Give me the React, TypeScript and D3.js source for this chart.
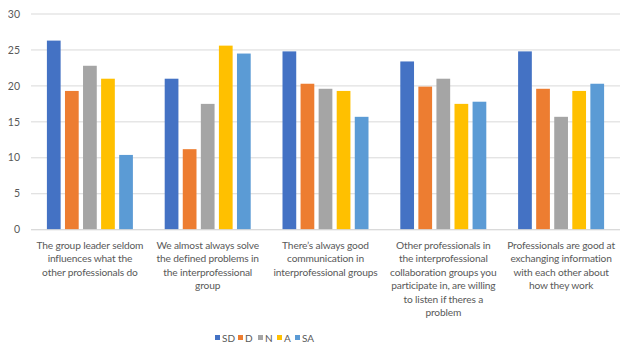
import React from "react";
import * as d3 from "d3";

const categories: string[][] = [
  ["The group leader seldom", "influences what the", "other professionals do"],
  ["We almost always solve", "the defined problems in", "the interprofessional", "group"],
  ["There\u2019s always good", "communication in", "interprofessional groups"],
  ["Other professionals in", "the interprofessional", "collaboration groups you", "participate in, are willing", "to listen if theres a", "problem"],
  ["Professionals are good at", "exchanging information", "with each other about", "how they work"],
];
const seriesNames = ["SD", "D", "N", "A", "SA"];
const colors = ["#4472C4", "#ED7D31", "#A5A5A5", "#FFC000", "#5B9BD5"];
const sdValues = [26.3, 21.0, 24.8, 23.4, 24.8];
const dValues = [19.3, 11.2, 20.3, 19.9, 19.6];
const nValues = [22.8, 17.5, 19.6, 21.0, 15.7];
const aValues = [21.0, 25.6, 19.3, 17.5, 19.3];
const saValues = [10.4, 24.5, 15.7, 17.8, 20.3];
const yTicks = [0, 5, 10, 15, 20, 25, 30];

const seriesValues = [sdValues, dValues, nValues, aValues, saValues];

export default function App() {
  const W = 634, H = 357;
  const left = 31, right = 620, top = 14, bottom = 229.7;
  const x0 = d3.scaleBand<number>().domain(d3.range(categories.length)).range([left, right]).paddingInner(0).paddingOuter(0);
  const y = d3.scaleLinear().domain([0, 30]).range([bottom, top]);
  const groupW = 86;
  const x1 = d3.scaleBand<number>().domain(d3.range(seriesNames.length)).range([0, groupW]).paddingInner(0.24).paddingOuter(0);
  const font = "Lato, 'Open Sans', sans-serif";
  const legendX = [215, 238, 258, 277, 295];
  return (
    <div style={{ margin: -8 }}>
      <svg width={W} height={H} style={{ display: "block" }}>
        <rect x={0.5} y={0.5} width={W - 1} height={H - 1} fill="#fff" stroke="#D9D9D9" />
        {yTicks.map((t) => (
          <g key={t}>
            <line x1={left} x2={right} y1={y(t)} y2={y(t)} stroke="#D9D9D9" strokeWidth={1} />
            <text x={20} y={y(t)} dy="0.35em" textAnchor="end" fontSize={10.5} fill="#595959" fontFamily={font}>{t}</text>
          </g>
        ))}
        {categories.map((_, ci) => {
          const gx = (x0(ci) as number) + (x0.bandwidth() - groupW) / 2;
          return seriesValues.map((vals, si) => (
            <rect key={`${ci}-${si}`} x={gx + (x1(si) as number)} y={y(vals[ci])} width={x1.bandwidth()} height={y(0) - y(vals[ci])} fill={colors[si]} />
          ));
        })}
        <line x1={left} x2={right} y1={y(0)} y2={y(0)} stroke="#D9D9D9" />
        {categories.map((lines, ci) => (
          <text key={ci} x={(x0(ci) as number) + x0.bandwidth() / 2} y={249} textAnchor="middle" fontSize={10.2} letterSpacing={-0.15} fill="#595959" fontFamily={font}>
            {lines.map((l, li) => (
              <tspan key={li} x={(x0(ci) as number) + x0.bandwidth() / 2} dy={li === 0 ? 0 : 13.4}>{l}</tspan>
            ))}
          </text>
        ))}
        {seriesNames.map((s, si) => (
          <g key={s}>
            <rect x={legendX[si]} y={335} width={5} height={5} fill={colors[si]} />
            <text x={legendX[si] + 7} y={338} dy="0.35em" fontSize={10} fill="#595959" fontFamily={font}>{s}</text>
          </g>
        ))}
      </svg>
    </div>
  );
}
